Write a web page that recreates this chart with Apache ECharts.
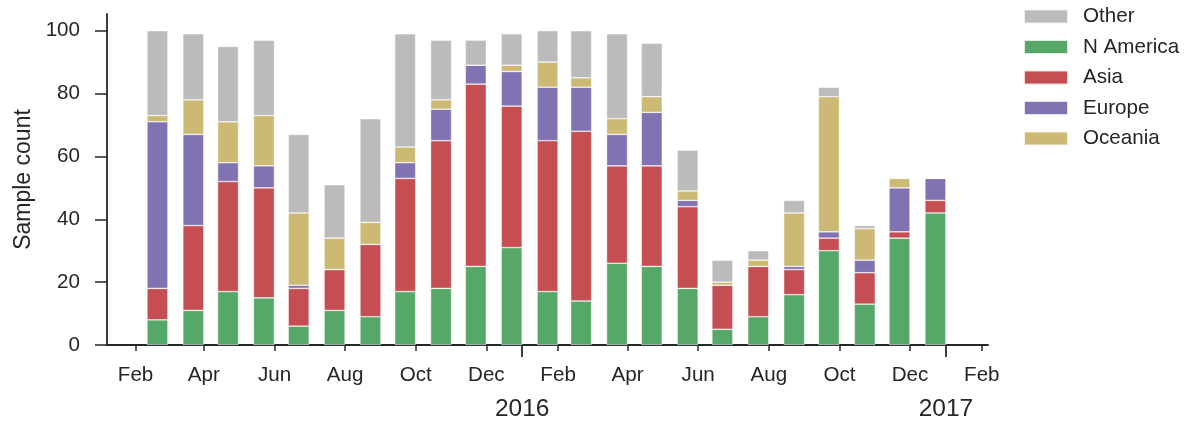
<!DOCTYPE html>
<html>
<head>
<meta charset="utf-8">
<script src="https://cdn.jsdelivr.net/npm/echarts@6/dist/echarts.min.js"></script>
<style>
  html, body { margin: 0; padding: 0; background: #fff; }
  #chart { width: 1186px; height: 424px; }
</style>
</head>
<body>
<div id="chart"></div>
<script>
// month each bar belongs to (bar sits at the end of that month)
var months = ['2015-02', '2015-03', '2015-04', '2015-05', '2015-06', '2015-07', '2015-08', '2015-09',
  '2015-10', '2015-11', '2015-12', '2016-01', '2016-02', '2016-03', '2016-04', '2016-05', '2016-06',
  '2016-07', '2016-08', '2016-09', '2016-10', '2016-11', '2016-12'];

var nAmerica = [8, 11, 17, 15, 6, 11, 9, 17, 18, 25, 31, 17, 14, 26, 25, 18, 5, 9, 16, 30, 13, 34, 42];
var asia     = [10, 27, 35, 35, 12, 13, 23, 36, 47, 58, 45, 48, 54, 31, 32, 26, 14, 16, 8, 4, 10, 2, 4];
var europe   = [53, 29, 6, 7, 1, 0, 0, 5, 10, 6, 11, 17, 14, 10, 17, 2, 0, 0, 1, 2, 4, 14, 7];
var oceania  = [2, 11, 13, 16, 23, 10, 7, 5, 3, 0, 2, 8, 3, 5, 5, 3, 1, 2, 17, 43, 10, 3, 0];
var other    = [27, 21, 24, 24, 25, 17, 33, 36, 19, 8, 10, 10, 15, 27, 17, 13, 7, 3, 4, 3, 1, 0, 0];

var tickDates  = ['2015-02', '2015-04', '2015-06', '2015-08', '2015-10', '2015-12', '2016-02',
  '2016-04', '2016-06', '2016-08', '2016-10', '2016-12', '2017-02'];
var tickLabels = ['Feb', 'Apr', 'Jun', 'Aug', 'Oct', 'Dec', 'Feb', 'Apr', 'Jun', 'Aug', 'Oct', 'Dec', 'Feb'];
var yearDates  = ['2016-01', '2017-01'];
var yearLabels = ['2016', '2017'];
var yTicks = [0, 20, 40, 60, 80, 100];

var colors = {
  'N America': '#55a868',
  'Asia': '#c44e52',
  'Europe': '#8172b2',
  'Oceania': '#ccb974',
  'Other': '#bbbbbb'
};

var DAY = 86400000;
var barShiftDays = 9.1;   // bars end at the start of the following month
var font = "'Liberation Sans', Arial, sans-serif";
var ink = '#262626';

function monthStart(s) {
  var p = s.split('-');
  return Date.UTC(+p[0], +p[1] - 1, 1);
}
function monthEnd(s) {
  var p = s.split('-');
  return Date.UTC(+p[0], +p[1], 1);
}

var tickTimes = tickDates.map(monthStart);
var yearTimes = yearDates.map(monthStart);
var xMin = Date.UTC(2015, 0, 7, 8);
var xMax = Date.UTC(2017, 1, 6, 8);

// count first, date second: the stack is taken on the first numeric column
function toPoints(vals) {
  return months.map(function (m, i) {
    return [vals[i], monthEnd(m) - barShiftDays * DAY];
  });
}

function makeSeries(name, vals) {
  return {
    name: name,
    type: 'bar',
    stack: 'all',
    barWidth: 21,
    xAxisIndex: 0,
    encode: { x: 1, y: 0 },
    itemStyle: { color: colors[name], borderColor: 'rgba(255,255,255,0.8)', borderWidth: 0.6 },
    emphasis: { disabled: true },
    data: toPoints(vals)
  };
}

var chart = echarts.init(document.getElementById('chart'), null, { renderer: 'canvas' });

var option = {
  backgroundColor: '#fff',
  animation: false,
  textStyle: { fontFamily: font },
  grid: { left: 107, right: 198, top: 14, bottom: 79 },
  legend: {
    orient: 'vertical',
    left: 1018,
    top: 1,
    icon: 'rect',
    itemWidth: 44,
    itemHeight: 14,
    itemGap: 9.5,
    textStyle: { fontSize: 20.6, color: ink, fontFamily: font, padding: [0, 0, 0, 10] },
    data: ['Other', 'N America', 'Asia', 'Europe', 'Oceania']
  },
  xAxis: [{
    type: 'value',
    min: xMin,
    max: xMax,
    axisLine: { show: true, lineStyle: { color: ink, width: 1.8 } },
    axisTick: { show: true, length: 6, customValues: tickTimes, lineStyle: { color: ink, width: 1.5 } },
    axisLabel: {
      customValues: tickTimes,
      margin: 20,
      fontSize: 20.6,
      color: ink,
      fontFamily: font,
      formatter: function (v) {
        var i = tickTimes.indexOf(v);
        return i >= 0 ? tickLabels[i] : '';
      }
    },
    splitLine: { show: false }
  }, {
    type: 'value',
    position: 'bottom',
    min: xMin,
    max: xMax,
    axisLine: { show: false },
    axisTick: { show: true, length: 12, customValues: yearTimes, lineStyle: { color: ink, width: 1.8 } },
    axisLabel: {
      customValues: yearTimes,
      margin: 52,
      fontSize: 24.5,
      color: ink,
      fontFamily: font,
      formatter: function (v) {
        var i = yearTimes.indexOf(v);
        return i >= 0 ? yearLabels[i] : '';
      }
    },
    splitLine: { show: false }
  }],
  yAxis: {
    type: 'value',
    min: 0,
    max: 105.3,
    name: 'Sample count',
    nameLocation: 'middle',
    nameGap: 72,
    nameTextStyle: { fontSize: 23, color: ink, fontFamily: font },
    axisLine: { show: true, lineStyle: { color: ink, width: 1.8 } },
    axisTick: { show: true, length: 12, customValues: yTicks, lineStyle: { color: ink, width: 1.5 } },
    axisLabel: { customValues: yTicks, margin: 27, fontSize: 20.6, color: ink, fontFamily: font },
    splitLine: { show: false }
  },
  series: [
    makeSeries('N America', nAmerica),
    makeSeries('Asia', asia),
    makeSeries('Europe', europe),
    makeSeries('Oceania', oceania),
    makeSeries('Other', other)
  ]
};

chart.setOption(option);
</script>
</body>
</html>
